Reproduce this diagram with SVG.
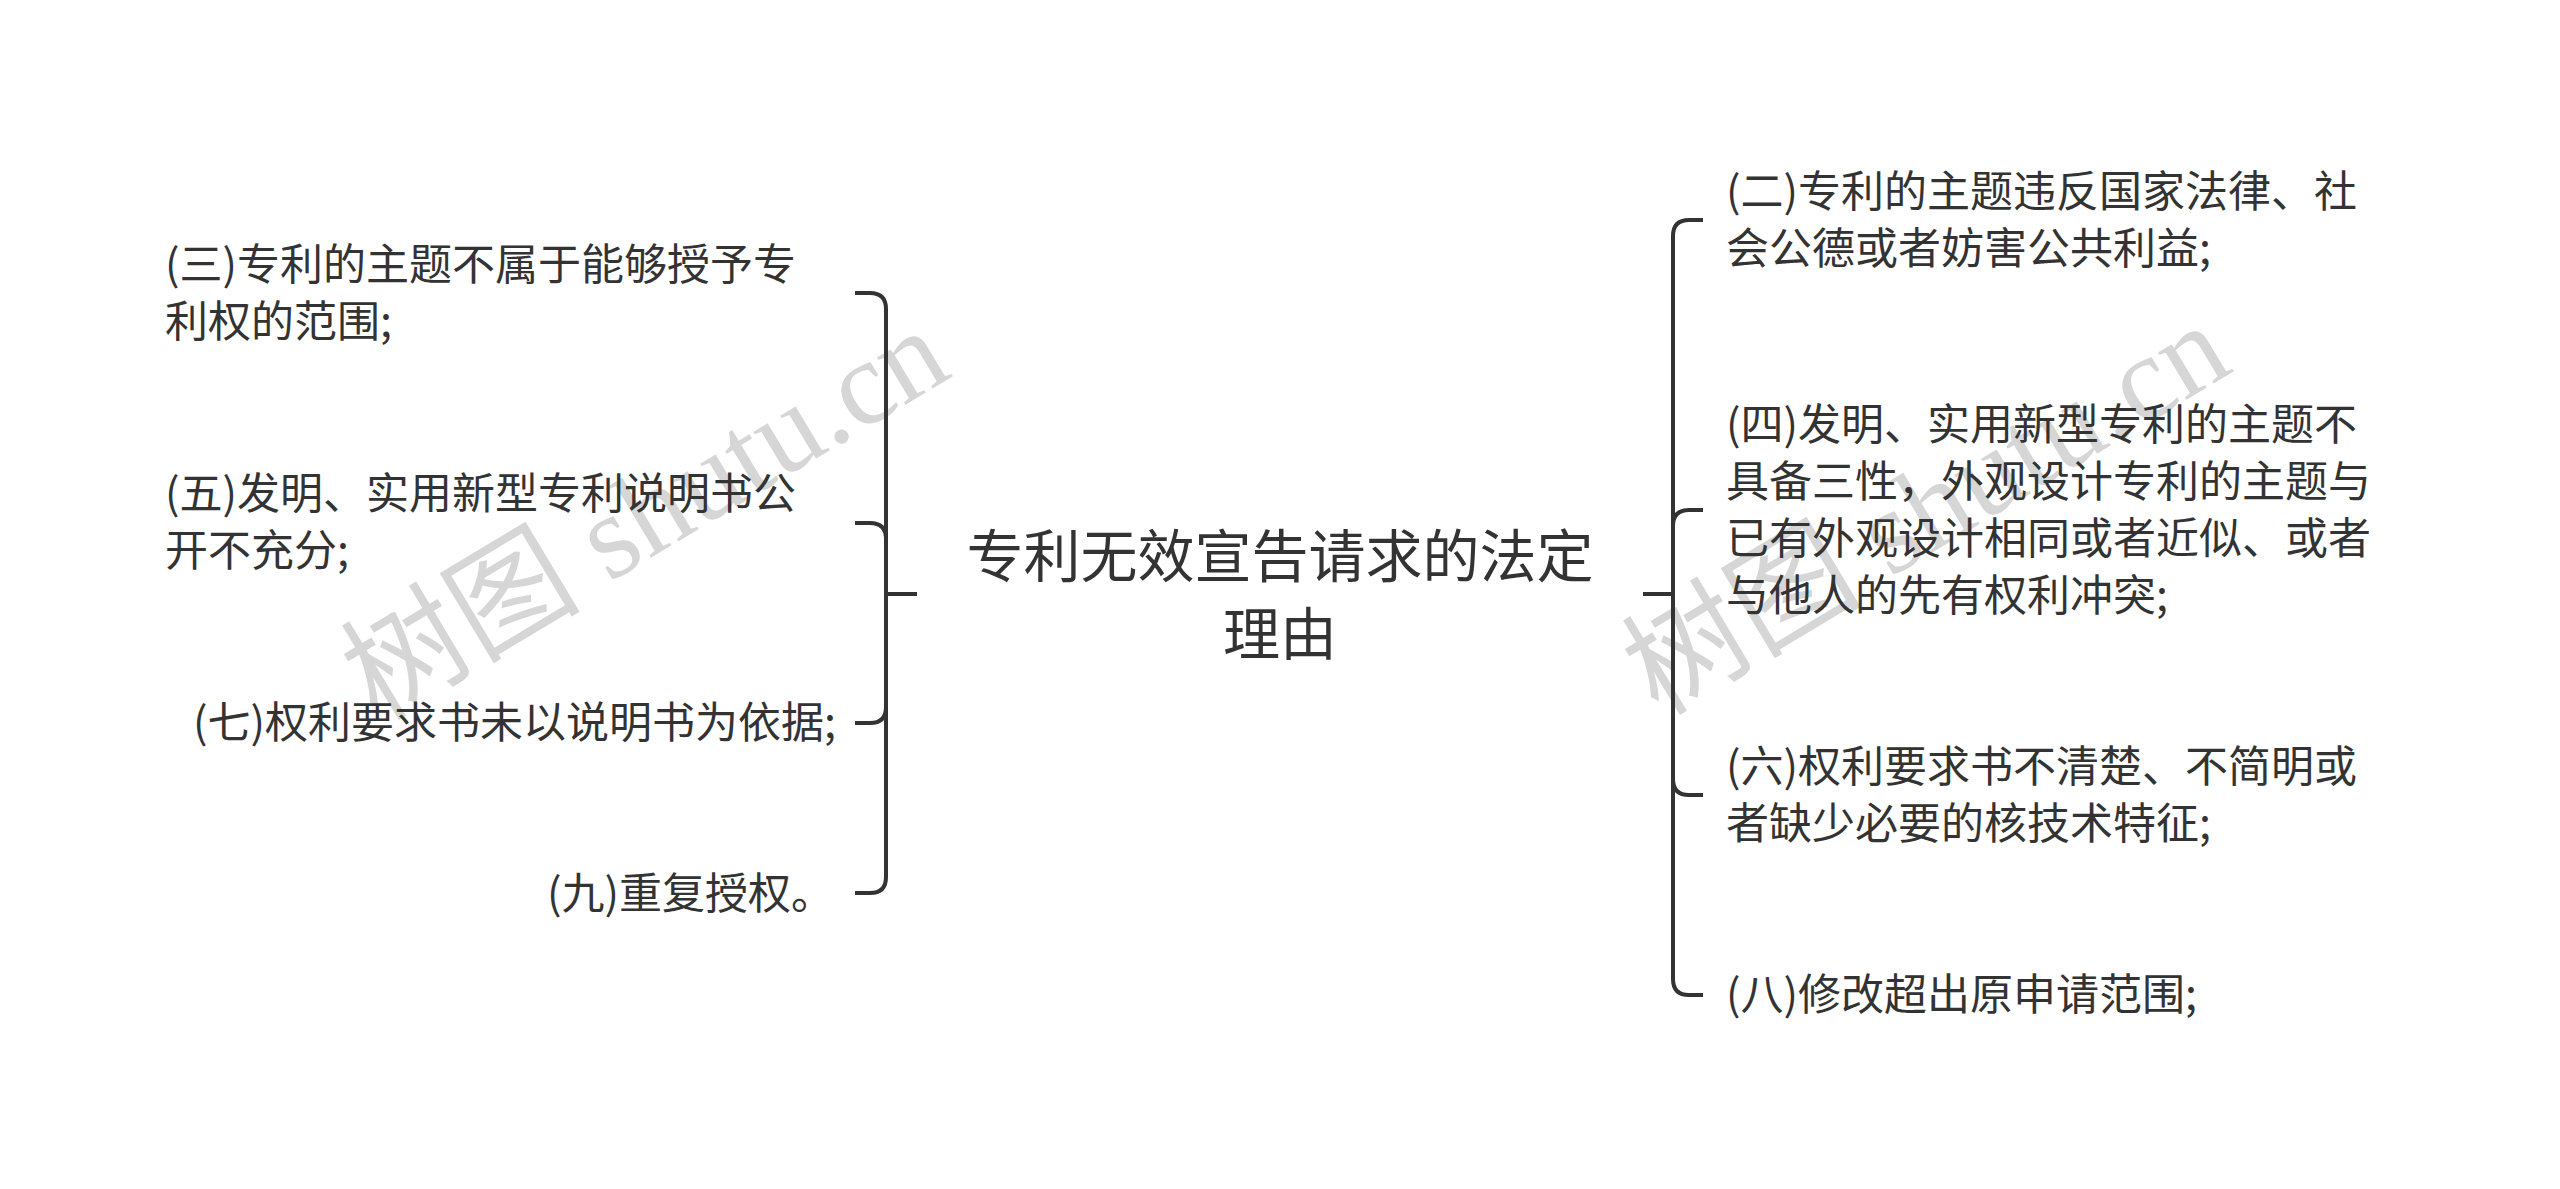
<svg xmlns="http://www.w3.org/2000/svg" width="2560" height="1189" viewBox="0 0 2560 1189">
<style>
.t{font-family:"Noto Sans CJK SC","Noto Sans",sans-serif;font-size:43px;fill:#333333}
.title{font-family:"Noto Sans CJK SC","Noto Sans",sans-serif;font-size:57px;fill:#333333;text-anchor:middle}
.c{fill:none;stroke:#333333;stroke-width:4;stroke-linecap:butt}
.wm{font-family:"Liberation Serif","Noto Sans CJK SC",serif;font-size:120px;fill:#d6d6d6;text-anchor:middle;dominant-baseline:central}
</style>
<rect width="2560" height="1189" fill="#ffffff"/>
<g id="watermarks">
<text class="wm" transform="translate(645,514) rotate(-31)">树图 shutu.cn</text>
<text class="wm" transform="translate(1926,509) rotate(-31)">树图 shutu.cn</text>
</g>
<g id="connectors">
<path class="c" d="M917,594 H886"/>
<path class="c" d="M886,594 V309 Q886,293 870,293 H855"/>
<path class="c" d="M886,594 V539 Q886,523 870,523 H855"/>
<path class="c" d="M886,594 V707 Q886,723 870,723 H855"/>
<path class="c" d="M886,594 V877 Q886,893 870,893 H855"/>
<path class="c" d="M1643,594 H1673"/>
<path class="c" d="M1673,594 V236 Q1673,220 1689,220 H1703"/>
<path class="c" d="M1673,594 V526 Q1673,510 1689,510 H1703"/>
<path class="c" d="M1673,594 V779 Q1673,795 1689,795 H1703"/>
<path class="c" d="M1673,594 V979 Q1673,995 1689,995 H1703"/>
</g>
<g id="root">
<text class="title" x="1280" y="577">专利无效宣告请求的法定</text>
<text class="title" x="1280" y="655">理由</text>
</g>
<g id="n3">
<text class="t" x="165" y="280">(三)专利的主题不属于能够授予专</text>
<text class="t" x="165" y="337">利权的范围;</text>
</g>
<g id="n5">
<text class="t" x="165" y="509">(五)发明、实用新型专利说明书公</text>
<text class="t" x="165" y="566">开不充分;</text>
</g>
<g id="n7">
<text class="t" x="193" y="738">(七)权利要求书未以说明书为依据;</text>
</g>
<g id="n9">
<text class="t" x="547" y="909">(九)重复授权。</text>
</g>
<g id="n2">
<text class="t" x="1726" y="207">(二)专利的主题违反国家法律、社</text>
<text class="t" x="1726" y="264">会公德或者妨害公共利益;</text>
</g>
<g id="n4">
<text class="t" x="1726" y="440">(四)发明、实用新型专利的主题不</text>
<text class="t" x="1726" y="497">具备三性，外观设计专利的主题与</text>
<text class="t" x="1726" y="554">已有外观设计相同或者近似、或者</text>
<text class="t" x="1726" y="611">与他人的先有权利冲突;</text>
</g>
<g id="n6">
<text class="t" x="1726" y="782">(六)权利要求书不清楚、不简明或</text>
<text class="t" x="1726" y="839">者缺少必要的核技术特征;</text>
</g>
<g id="n8">
<text class="t" x="1726" y="1010">(八)修改超出原申请范围;</text>
</g>
</svg>
